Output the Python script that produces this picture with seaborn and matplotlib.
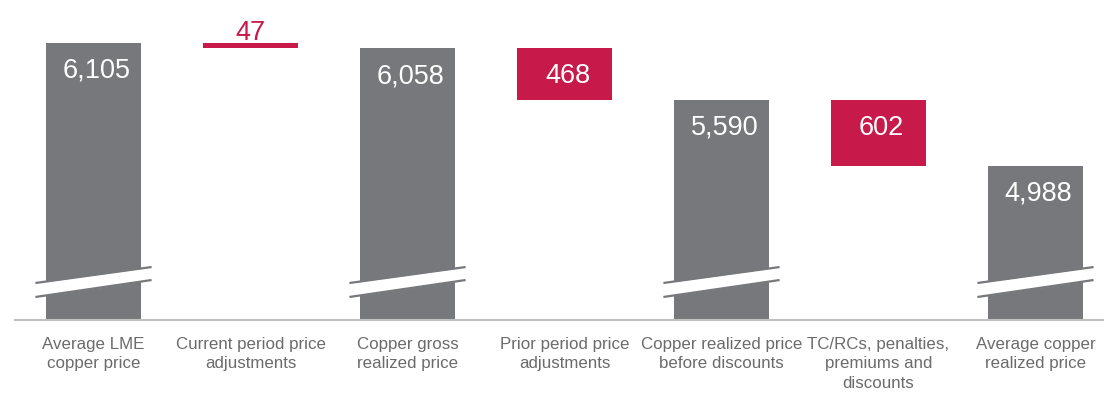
import matplotlib
matplotlib.use("Agg")
import matplotlib.pyplot as plt
import numpy as np
import pandas as pd
import seaborn as sns

# Copper price waterfall (US$/tonne)
categories = [
    "Average LME\ncopper price",
    "Current period price\nadjustments",
    "Copper gross\nrealized price",
    "Prior period price\nadjustments",
    "Copper realized price\nbefore discounts",
    "TC/RCs, penalties,\npremiums and\ndiscounts",
    "Average copper\nrealized price",
]
values = [6105, -47, 6058, -468, 5590, -602, 4988]
kinds = ["total", "delta", "total", "delta", "total", "delta", "total"]
labels = ["6,105", "47", "6,058", "468", "5,590", "602", "4,988"]

GRAY = "#77787b"
RED = "#c8194b"
TICK_GRAY = "#6b6b6b"
AXIS_GRAY = "#c0c0c0"

# bar extents: totals rise from zero, deltas hang from the previous total
bottoms, heights = [], []
running = 0
for v, k in zip(values, kinds):
    if k == "total":
        bottoms.append(0)
        heights.append(v)
        running = v
    else:
        bottoms.append(running + v)
        heights.append(-v)
        running = running + v
df = pd.DataFrame({"category": categories, "height": heights, "kind": kinds})

sns.set_theme(style="white")
plt.rcParams["font.family"] = ["Liberation Sans", "DejaVu Sans"]

fig = plt.figure(figsize=(11.04, 3.97), dpi=100)
ax = fig.add_axes([15 / 1104, 77 / 397, 1 - 15 / 1104, 320 / 397])

sns.barplot(data=df, x="category", y="height", bottom=np.array(bottoms),
            width=0.6, color=GRAY, linewidth=0, ax=ax, zorder=2)
for patch, k in zip(ax.patches, kinds):
    patch.set_facecolor(GRAY if k == "total" else RED)

ymin, ymax = 3589, 6495
ax.set_ylim(ymin, ymax)
ax.set_xlim(-0.5, 6.5 - 10 / 157)

# axis-break marks across the total bars
half = 0.37
for i, k in enumerate(kinds):
    if k != "total":
        continue
    xs = np.array([i - half, i + half])
    top_edge = np.array([3925, 4070])
    bot_edge = np.array([3798, 3952])
    ax.fill_between(xs, bot_edge, top_edge, color="white", lw=0, zorder=3)
    ax.plot(xs, top_edge, color=GRAY, lw=1.6, zorder=4, solid_capstyle="butt")
    ax.plot(xs, bot_edge, color=GRAY, lw=1.6, zorder=4, solid_capstyle="butt")

# value labels
for i, (lab, k) in enumerate(zip(labels, kinds)):
    top = bottoms[i] + heights[i]
    if k == "delta" and heights[i] < 100:
        ax.annotate(lab, (i, top), xytext=(0, 3), textcoords="offset pixels",
                    ha="center", va="baseline", color=RED, fontsize=19.5, zorder=5)
    else:
        ax.annotate(lab, (i + 0.02, top), xytext=(0, -15), textcoords="offset pixels",
                    ha="center", va="top", color="white", fontsize=19.5, zorder=5)

# axes styling
for side in ["left", "right", "top"]:
    ax.spines[side].set_visible(False)
ax.spines["bottom"].set_color(AXIS_GRAY)
ax.spines["bottom"].set_linewidth(1.5)
ax.spines["bottom"].set_zorder(6)
ax.set_yticks([])
ax.set_xlabel("")
ax.set_ylabel("")
ax.set_xticks(range(len(categories)))
ax.set_xticklabels(categories, color=TICK_GRAY, fontsize=12.2, linespacing=1.38)
ax.tick_params(axis="x", which="major", length=0, pad=12)
ax.set_xticks(np.arange(0.5, len(categories) - 1, 1.0), minor=True)
ax.tick_params(axis="x", which="minor", length=5, width=1, color=AXIS_GRAY, direction="out")

fig.savefig("out.png", dpi=100)
